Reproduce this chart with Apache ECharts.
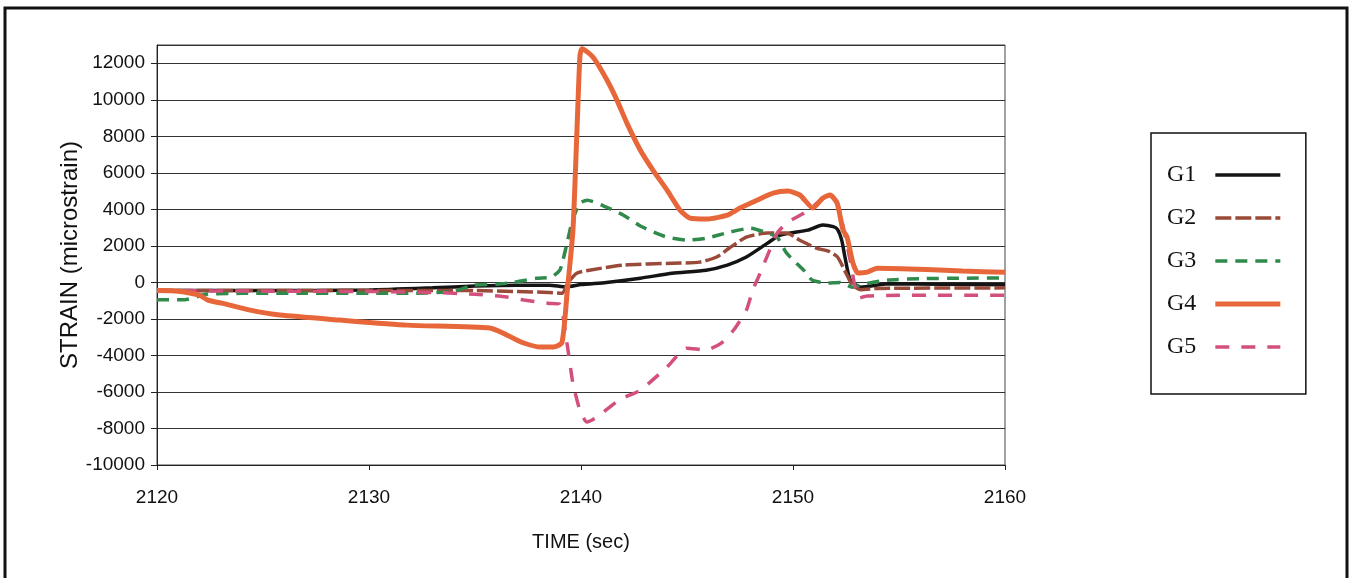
<!DOCTYPE html>
<html>
<head>
<meta charset="utf-8">
<script src="https://cdn.jsdelivr.net/npm/echarts@6/dist/echarts.min.js"></script>
<style>
  html, body { margin: 0; padding: 0; background: #fff; }
  #chart { width: 1353px; height: 578px; }
</style>
</head>
<body>
<div id="chart"></div>
<script>
  // strain gauge readings
  var g1Time = [2120, 2125, 2130, 2133, 2135, 2137, 2138.5, 2139.3, 2140, 2141.2, 2142.8, 2144.3, 2145.9, 2146.9, 2147.8, 2148.8, 2149.4, 2150.7, 2151.4, 2151.9, 2152.1, 2152.3, 2152.45, 2152.7, 2153.2, 2154.5, 2157, 2160];
  var g1Strain = [-450, -450, -420, -300, -200, -150, -150, -250, -120, 0, 230, 500, 670, 950, 1390, 2150, 2590, 2860, 3140, 3050, 2900, 2300, 1390, 130, -260, -80, -100, -130];

  var g2Time = [2120, 2125, 2130, 2135, 2137, 2138.5, 2139.1, 2139.4, 2139.8, 2140.4, 2142, 2144.3, 2145.6, 2146.4, 2147, 2147.8, 2148.8, 2149.7, 2150.3, 2151.1, 2151.7, 2152.1, 2152.5, 2152.8, 2153.2, 2154, 2160];
  var g2Strain = [-450, -450, -450, -450, -500, -550, -600, 0, 500, 670, 950, 1050, 1110, 1390, 1880, 2480, 2700, 2700, 2320, 1880, 1700, 1390, 510, -150, -400, -330, -300];

  var g3Time = [2120, 2121.3, 2122.3, 2124, 2127, 2130, 2132, 2134, 2134.9, 2136, 2136.8, 2137.9, 2138.6, 2139.0, 2139.15, 2139.35, 2139.6, 2139.95, 2140.3, 2141.2, 2142, 2142.9, 2144.05, 2145, 2145.9, 2147, 2148, 2148.8, 2149.25, 2149.7, 2150.5, 2150.9, 2151.6, 2152.2, 2152.8, 2153.3, 2154.5, 2156, 2158, 2160];
  var g3Strain = [-950, -950, -650, -600, -590, -590, -590, -500, -150, -100, 0, 230, 290, 670, 1220, 2200, 3400, 4340, 4500, 4120, 3680, 3030, 2480, 2320, 2420, 2750, 2970, 2700, 2480, 1600, 670, 130, -40, 0, -260, -100, 130, 200, 230, 250];

  var g4Time = [2120, 2121, 2122, 2122.4, 2123.1, 2124.4, 2125.8, 2128.6, 2131.8, 2135.7, 2136.5, 2137.3, 2138.1, 2138.7, 2139.1, 2139.35, 2139.62, 2139.81, 2139.95, 2140.05, 2140.57, 2141.23, 2141.7, 2142.17, 2142.8, 2143.4, 2144.06, 2144.67, 2145.14, 2145.94, 2146.9, 2147.5, 2148.3, 2149.06, 2149.76, 2150.33, 2150.94, 2151.4, 2151.75, 2152.08, 2152.36, 2152.55, 2152.83, 2153.07, 2153.5, 2153.96, 2156.3, 2158, 2160];
  var g4Strain = [-450, -480, -700, -970, -1150, -1520, -1790, -2060, -2340, -2500, -2880, -3320, -3540, -3540, -3300, -500, 2860, 8340, 12400, 12800, 12330, 11070, 9970, 8710, 7240, 6140, 5050, 3960, 3520, 3470, 3680, 4070, 4500, 4890, 5000, 4780, 4070, 4610, 4780, 4340, 2860, 2480, 1050, 510, 560, 780, 710, 620, 550];

  var g5Time = [2120, 2125, 2130, 2133, 2135, 2136.5, 2137.3, 2138.5, 2139.0, 2139.34, 2139.62, 2139.95, 2140.28, 2140.75, 2141.8, 2142.8, 2144.05, 2145.0, 2145.9, 2146.6, 2147.2, 2147.8, 2148.1, 2148.45, 2148.9, 2149.25, 2149.7, 2150.5, 2150.9, 2151.4, 2151.75, 2152.1, 2152.4, 2152.7, 2153.1, 2153.5, 2155, 2160];
  var g5Strain = [-450, -480, -500, -550, -650, -800, -970, -1150, -1200, -3340, -5530, -7000, -7650, -7380, -6440, -5900, -4640, -3600, -3700, -3340, -2610, -1520, -420, 500, 1770, 2700, 3250, 3790, 4120, 4610, 4780, 4340, 2860, 1200, -860, -750, -700, -700];

  var gaugeNames = ['G1', 'G2', 'G3', 'G4', 'G5'];
  var gaugeColors = ['#141414', '#9a4a38', '#2f8a4c', '#e8673a', '#d4507c'];
  var gaugeWidths = [3.5, 3.5, 3.5, 5, 3.5];
  var gaugeDashes = ['solid', [16, 4], [12, 8], 'solid', [14, 12]];

  function pairs(t, v) {
    return t.map(function (x, i) { return [x, v[i]]; });
  }

  var chart = echarts.init(document.getElementById('chart'));
  var font = 'Liberation Sans, Arial, sans-serif';

  function line(idx, t, v, z) {
    return {
      name: gaugeNames[idx],
      type: 'line',
      data: pairs(t, v),
      showSymbol: false,
      symbol: 'none',
      smooth: 0.2,
      z: z || 2,
      lineStyle: { color: gaugeColors[idx], width: gaugeWidths[idx], type: gaugeDashes[idx] },
      itemStyle: { color: gaugeColors[idx] },
    };
  }

  var option = {
    backgroundColor: '#ffffff',
    animation: false,
    grid: {
      left: 157, right: 348, top: 45, bottom: 113,
      show: true, borderColor: '#444', borderWidth: 1,
    },
    graphic: [{
      type: 'rect',
      shape: { x: 5, y: 8, width: 1342, height: 600 },
      style: { fill: 'none', stroke: '#111', lineWidth: 3 },
      silent: true,
    }],
    legend: {
      data: gaugeNames.map(function (n, i) {
        return { name: n, lineStyle: { width: gaugeWidths[i], type: gaugeDashes[i], color: gaugeColors[i] } };
      }),
      orient: 'vertical',
      align: 'right',
      left: 1151,
      top: 133,
      padding: [30, 23, 35, 16],
      borderColor: '#111',
      borderWidth: 1.5,
      itemWidth: 65,
      itemHeight: 14,
      itemGap: 19,
      itemStyle: { opacity: 0 },
      textStyle: { fontFamily: 'Liberation Serif, Times New Roman, serif', fontSize: 24, color: '#111', padding: [0, 14, 0, 0] },
    },
    xAxis: {
      type: 'value',
      min: 2120, max: 2160, interval: 10,
      name: 'TIME (sec)',
      nameLocation: 'middle',
      nameGap: 67,
      nameMoveOverlap: false,
      nameTextStyle: { fontFamily: font, fontSize: 20, color: '#111' },
      axisLine: { onZero: false, lineStyle: { color: '#222', width: 1 } },
      axisTick: { show: true, length: 5, lineStyle: { color: '#222' } },
      axisLabel: { margin: 23, fontFamily: font, fontSize: 19, color: '#111', formatter: function (v) { return String(v); } },
      splitLine: { show: false },
    },
    yAxis: {
      type: 'value',
      min: -10000, max: 13000, interval: 2000,
      name: 'STRAIN (microstrain)',
      nameLocation: 'middle',
      nameGap: 75,
      nameMoveOverlap: false,
      nameTextStyle: { fontFamily: font, fontSize: 24, color: '#111' },
      axisLine: { show: true, lineStyle: { color: '#222', width: 1 } },
      axisTick: { show: true, length: 6, lineStyle: { color: '#222' } },
      axisLabel: { margin: 12, fontFamily: font, fontSize: 19, color: '#111', showMaxLabel: false, formatter: function (v) { return String(v); } },
      splitLine: { show: true, lineStyle: { color: '#333', width: 1 } },
    },
    series: [
      line(0, g1Time, g1Strain),
      line(1, g2Time, g2Strain),
      line(2, g3Time, g3Strain),
      line(3, g4Time, g4Strain, 4),
      line(4, g5Time, g5Strain),
    ],
  };

  chart.setOption(option);
  window.addEventListener('resize', function () {
    chart.resize();
  });
</script>
</body>
</html>
